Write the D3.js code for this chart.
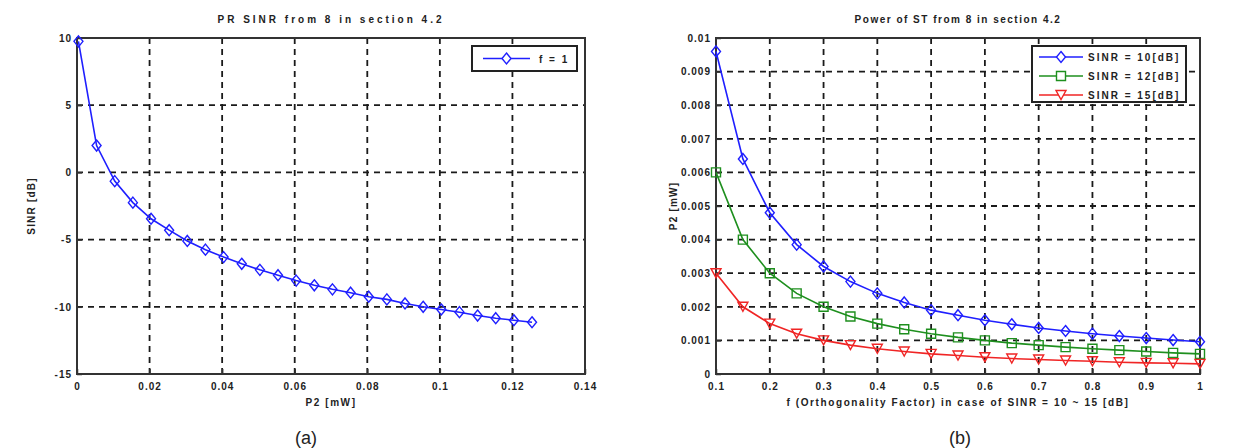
<!DOCTYPE html>
<html>
<head>
<meta charset="utf-8">
<script src="https://cdn.jsdelivr.net/npm/d3@7"></script>
<style>
  body { margin: 0; background: #fff; }
  svg text { font-family: "Liberation Sans", Arial, sans-serif; fill: #222; }
</style>
</head>
<body>
<svg id="fig" width="1255" height="448"></svg>
<script>
// ---- data: panel (a) PR SINR vs P2 ----
const p2Values = [0.0004, 0.0054, 0.0104, 0.0154, 0.0204, 0.0254, 0.0304, 0.0354, 0.0404, 0.0454,
  0.0504, 0.0554, 0.0604, 0.0654, 0.0704, 0.0754, 0.0804, 0.0854, 0.0904, 0.0954,
  0.1004, 0.1054, 0.1104, 0.1154, 0.1204, 0.1254];
const sinrValues = [9.75, 2.0, -0.65, -2.25, -3.45, -4.3, -5.1, -5.75, -6.3, -6.8,
  -7.25, -7.65, -8.05, -8.4, -8.7, -8.95, -9.25, -9.45, -9.75, -10.0,
  -10.2, -10.4, -10.65, -10.85, -11.0, -11.15];
const xTicksA = [0, 0.02, 0.04, 0.06, 0.08, 0.1, 0.12, 0.14];
const yTicksA = [-15, -10, -5, 0, 5, 10];

// ---- data: panel (b) power of ST vs orthogonality factor ----
const fValues = [0.1, 0.15, 0.2, 0.25, 0.3, 0.35, 0.4, 0.45, 0.5, 0.55, 0.6, 0.65, 0.7, 0.75, 0.8, 0.85, 0.9, 0.95, 1.0];
const powSinr10 = [0.0096, 0.0064, 0.0048, 0.00385, 0.0032, 0.00275, 0.0024, 0.00213, 0.0019, 0.00175,
  0.0016, 0.00148, 0.00137, 0.00128, 0.0012, 0.00113, 0.00107, 0.00101, 0.00096];
const powSinr12 = [0.006, 0.004, 0.003, 0.0024, 0.002, 0.00171, 0.0015, 0.00133, 0.0012, 0.00109,
  0.001, 0.00092, 0.00086, 0.0008, 0.00075, 0.00071, 0.00067, 0.00063, 0.0006];
const powSinr15 = [0.003, 0.002, 0.0015, 0.0012, 0.001, 0.00086, 0.00075, 0.00067, 0.0006, 0.00055,
  0.0005, 0.00046, 0.00043, 0.0004, 0.00038, 0.00035, 0.00033, 0.00032, 0.0003];
const xTicksB = [0.1, 0.2, 0.3, 0.4, 0.5, 0.6, 0.7, 0.8, 0.9, 1];
const yTicksB = [0, 0.001, 0.002, 0.003, 0.004, 0.005, 0.006, 0.007, 0.008, 0.009, 0.01];

const svg = d3.select("#fig");

// marker paths (MATLAB style)
const markers = {
  diamond: "M0,-5.5L4.5,0L0,5.5L-4.5,0Z",
  square: "M-4.5,-4.5H4.5V4.5H-4.5Z",
  triDown: "M-5,-4.5L5,-4.5L0,4.5Z"
};

function drawPanel(cfg) {
  const g = svg.append("g");
  const x = d3.scaleLinear().domain(cfg.xDomain).range([cfg.left, cfg.right]);
  const y = d3.scaleLinear().domain(cfg.yDomain).range([cfg.bottom, cfg.top]);

  // grid
  g.append("g").selectAll("line").data(cfg.xTicks.slice(1, -1)).join("line")
    .attr("x1", d => x(d)).attr("x2", d => x(d))
    .attr("y1", cfg.top).attr("y2", cfg.bottom)
    .attr("stroke", "#1a1a1a").attr("stroke-width", 1.8).attr("stroke-dasharray", "6,5");
  g.append("g").selectAll("line").data(cfg.yTicks.slice(1, -1)).join("line")
    .attr("x1", cfg.left).attr("x2", cfg.right)
    .attr("y1", d => y(d)).attr("y2", d => y(d))
    .attr("stroke", "#1a1a1a").attr("stroke-width", 1.8).attr("stroke-dasharray", "6,5");

  // axes (ticks pointing inwards, labels outside)
  const fmt = cfg.fmt;
  const xAx = g.append("g").attr("transform", `translate(0,${cfg.bottom})`)
    .call(d3.axisBottom(x).tickValues(cfg.xTicks).tickSize(-5).tickPadding(9).tickFormat(fmt));
  const yAx = g.append("g").attr("transform", `translate(${cfg.left},0)`)
    .call(d3.axisLeft(y).tickValues(cfg.yTicks).tickSize(-5).tickPadding(5).tickFormat(fmt));
  [xAx, yAx].forEach(a => {
    a.select(".domain").remove();
    a.selectAll(".tick line").attr("stroke", "#333").attr("stroke-width", 1.5);
    a.selectAll("text").attr("font-size", 10).attr("font-weight", "bold")
      .attr("letter-spacing", 1).attr("fill", "#222");
  });

  // box
  g.append("rect").attr("x", cfg.left).attr("y", cfg.top)
    .attr("width", cfg.right - cfg.left).attr("height", cfg.bottom - cfg.top)
    .attr("fill", "none").attr("stroke", "#333").attr("stroke-width", 2);

  // series
  const line = d3.line().x(d => x(d[0])).y(d => y(d[1]));
  cfg.series.forEach(s => {
    const pts = s.xs.map((v, i) => [v, s.ys[i]]);
    g.append("path").datum(pts).attr("d", line)
      .attr("fill", "none").attr("stroke", s.color).attr("stroke-width", 1.6);
    g.append("g").selectAll("path").data(pts).join("path")
      .attr("d", markers[s.marker])
      .attr("transform", d => `translate(${x(d[0])},${y(d[1])})`)
      .attr("fill", "none").attr("stroke", s.color).attr("stroke-width", 1.4);
  });

  // title and labels
  g.append("text").attr("x", (cfg.left + cfg.right) / 2).attr("y", 23)
    .attr("text-anchor", "middle").attr("font-size", 10).attr("font-weight", "bold")
    .attr("letter-spacing", cfg.titleSpacing).attr("fill", "#333")
    .text(cfg.title);
  g.append("text").attr("x", (cfg.left + cfg.right) / 2).attr("y", 406)
    .attr("text-anchor", "middle").attr("font-size", 10).attr("font-weight", "bold")
    .attr("letter-spacing", 1.6).attr("fill", "#333")
    .text(cfg.xLabel);
  g.append("text").attr("transform", `translate(${cfg.yLabelX},${(cfg.top + cfg.bottom) / 2}) rotate(-90)`)
    .attr("text-anchor", "middle").attr("font-size", 10).attr("font-weight", "bold")
    .attr("letter-spacing", 1.2).attr("fill", "#333")
    .text(cfg.yLabel);
  g.append("text").attr("x", cfg.capX).attr("y", 444)
    .attr("text-anchor", "middle").attr("font-size", 18).attr("fill", "#333")
    .text(cfg.caption);

  // legend
  const L = cfg.legend;
  g.append("rect").attr("x", L.x0).attr("y", L.y0)
    .attr("width", L.x1 - L.x0).attr("height", L.y1 - L.y0)
    .attr("fill", "#fff").attr("stroke", "#222").attr("stroke-width", 2);
  cfg.series.forEach((s, i) => {
    const ly = L.rowY[i];
    g.append("line").attr("x1", L.lineX0).attr("x2", L.lineX1).attr("y1", ly).attr("y2", ly)
      .attr("stroke", s.color).attr("stroke-width", 1.6);
    g.append("path").attr("d", markers[s.marker])
      .attr("transform", `translate(${(L.lineX0 + L.lineX1) / 2},${ly})`)
      .attr("fill", "#fff").attr("stroke", s.color).attr("stroke-width", 1.4);
    g.append("text").attr("x", L.textX).attr("y", ly + 4)
      .attr("font-size", 10).attr("font-weight", "bold").attr("letter-spacing", 2)
      .text(s.name);
  });
}

drawPanel({
  left: 77, right: 585, top: 38, bottom: 374,
  xDomain: [0, 0.14], yDomain: [-15, 10],
  xTicks: xTicksA, yTicks: yTicksA,
  fmt: d => String(d),
  title: "PR SINR from 8 in section 4.2", titleSpacing: 3,
  xLabel: "P2 [mW]", yLabel: "SINR [dB]", yLabelX: 35,
  caption: "(a)", capX: 306,
  series: [{ name: "f = 1", xs: p2Values, ys: sinrValues, color: "#1f1fff", marker: "diamond" }],
  legend: { x0: 472, x1: 577, y0: 46, y1: 71, rowY: [58.5], lineX0: 483, lineX1: 530, textX: 539 }
});

drawPanel({
  left: 716, right: 1200, top: 38, bottom: 374,
  xDomain: [0.1, 1], yDomain: [0, 0.01],
  xTicks: xTicksB, yTicks: yTicksB,
  fmt: d => String(+d.toFixed(3)),
  title: "Power of ST from 8 in section 4.2", titleSpacing: 1.5,
  xLabel: "f (Orthogonality Factor) in case of SINR = 10 ~ 15 [dB]", yLabel: "P2 [mW]", yLabelX: 677,
  caption: "(b)", capX: 960,
  series: [
    { name: "SINR = 10[dB]", xs: fValues, ys: powSinr10, color: "#1f1fff", marker: "diamond" },
    { name: "SINR = 12[dB]", xs: fValues, ys: powSinr12, color: "#1e8f1e", marker: "square" },
    { name: "SINR = 15[dB]", xs: fValues, ys: powSinr15, color: "#f02525", marker: "triDown" }
  ],
  legend: { x0: 1032, x1: 1186, y0: 46, y1: 102, rowY: [57, 76, 95], lineX0: 1039, lineX1: 1083, textX: 1088 }
});
</script>
</body>
</html>
